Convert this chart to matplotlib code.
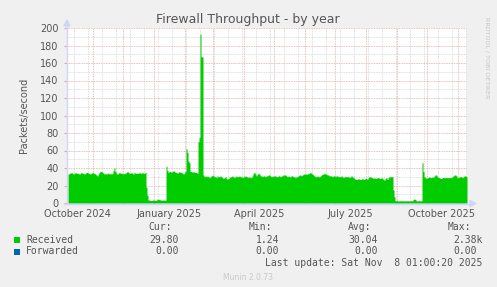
import numpy as np
import matplotlib
matplotlib.use("Agg")
from matplotlib import pyplot as plt
from matplotlib.patches import Rectangle, Polygon
from matplotlib.lines import Line2D
import datetime as dt

W, H = 497, 287

# daily "Received" packets/second, first day 2024-10-07
received_autumn = [
    33, 34, 34, 35, 34, 33, 34, 35, 34, 34,
    34, 33, 34, 35, 34, 34, 33, 34, 35, 35,
    34, 34, 33, 34, 35, 34, 34, 33, 32, 31,
    33, 35, 36, 36, 35, 34, 33, 34, 33, 34,
    34, 33, 34, 33, 34, 37, 40, 36, 34, 33,
    34, 35, 34, 34, 34, 33, 34, 34, 35, 36,
    35, 34, 34, 35, 34, 33, 35, 34, 34, 34,
    34, 35, 34, 34, 35, 34, 34, 35,
]
received_outage1 = [18, 9,
    3.5, 3.2, 3.0, 2.8, 3.0, 3.4, 3.2, 3.0, 3.3,
    4.5, 4.2, 3.8, 3.5, 3.2, 3.3, 3.4, 3.2, 3.3]
received_winter = [42,
    37, 35, 36, 36, 35, 36, 37, 36, 35, 35,
    34, 35, 36, 35, 35, 34, 33, 34, 36,
    62, 58, 48, 46,
    36, 36, 35, 36, 35, 35, 35, 34,
    70, 75, 193, 167, 167, 32]
received_spring = [
    30, 31, 30, 31, 30, 29, 30, 31, 32, 31,
    30, 30, 29, 31, 30, 30, 31, 30, 29, 28,
    29, 30, 28, 27, 28, 29, 30, 30, 31, 30,
    29, 30, 31, 30, 30, 31, 30, 30, 29, 30,
    30, 31, 30, 30, 29, 30,
    29, 29, 31, 34, 35, 33, 31, 33, 34, 33,
    31, 31, 30, 31, 31, 30, 31, 31, 32, 32,
    31, 30, 31, 30, 31, 31, 30, 30, 31, 31,
    30, 31, 31, 32, 32, 32, 31, 30, 31, 30,
    30, 31, 31, 30, 30, 29, 30, 30, 31, 32,
    32, 31, 32, 33, 33, 33, 33, 33, 34, 34,
    35, 34, 33, 32, 31, 30, 30, 31, 30, 30,
    31, 32, 33, 33, 34, 33, 33, 32, 32, 31,
    31, 31, 30, 31, 31, 30, 31, 31, 30, 30,
    30, 31, 30, 29, 30, 30, 30, 30, 30, 29,
    30, 31, 30, 29, 28, 27, 27, 27, 28, 27,
    27, 27, 28, 27, 27, 28, 28, 27, 29, 30,
    30, 29, 29, 28, 29, 28, 28, 29, 29, 28,
    28, 29, 28, 27, 26, 28, 29, 27, 29, 30,
    30, 30, 30,
]
received_outage2 = [15, 7,
    2.6, 2.4, 2.5, 2.3, 2.4, 2.5, 2.6, 2.4, 2.5, 2.3,
    2.4, 2.5, 2.6, 2.4, 2.5, 2.4, 2.6, 2.5, 4.2, 4.6,
    4.0, 2.5, 2.4, 2.5, 2.6, 2.4, 2.5]
received_autumn2 = [46,
    36, 30, 29, 28, 29, 29, 30, 29, 29, 30,
    29, 31, 32, 32, 30, 29, 29, 28, 28, 29,
    29, 29, 29, 29, 29, 29, 29, 29, 29, 30,
    31, 32, 32, 31, 29, 29, 30, 30, 30, 29,
    30, 31, 31, 30]

received = np.array(received_autumn + received_outage1 + received_winter
                    + received_spring + received_outage2 + received_autumn2, dtype=float)
forwarded = np.zeros_like(received)

data_start = dt.datetime(2024, 10, 7)
dates = [data_start + dt.timedelta(days=i) for i in range(len(received) + 1)]
vals = np.append(received, received[-1])
fwd = np.append(forwarded, 0)

x_start = dt.datetime(2024, 10, 6)
x_end = dt.datetime(2025, 11, 10)

# Nov 2024 .. Nov 2025
month_starts = [dt.datetime(2024 + (10 + k) // 12, (10 + k) % 12 + 1, 1) for k in range(13)]
label_dates = [dt.datetime(2024, 10, 16), dt.datetime(2025, 1, 16), dt.datetime(2025, 4, 16),
               dt.datetime(2025, 7, 16), dt.datetime(2025, 10, 16)]
label_text = ["October 2024", "January 2025", "April 2025", "July 2025", "October 2025"]

legend_names = ["Received", "Forwarded"]
legend_colors = ["#00CC00", "#0066B3"]
cur_vals = ["29.80", "0.00"]
min_vals = ["1.24", "0.00"]
avg_vals = ["30.04", "0.00"]
max_vals = ["2.38k", "0.00"]

BG = "#F0F0F0"
TXT = "#555555"
AXC = "#CFD6F8"
MAJ = "#E9A6A6"
MIN = "#D4D4D4"

fig = plt.figure(figsize=(W / 100, H / 100), dpi=100, facecolor=BG)
ax = fig.add_axes([67 / W, 1 - 203 / H, 400 / W, 175 / H])
ax.set_facecolor("white")
for s in ax.spines.values():
    s.set_visible(False)

# grid
wk = dt.datetime(2024, 10, 13)
while wk < x_end:
    ax.axvline(wk, color=MIN, lw=0.6, ls=(0, (1, 1)), zorder=1)
    wk += dt.timedelta(days=14)
for y in range(10, 201, 20):
    ax.axhline(y, color=MIN, lw=0.6, ls=(0, (1, 1)), zorder=1)
for m in month_starts:
    ax.axvline(m, color=MAJ, lw=0.6, ls=(0, (1, 1)), zorder=1.5)
for y in range(20, 201, 20):
    ax.axhline(y, color=MAJ, lw=0.6, ls=(0, (1, 1)), zorder=1.5)

ax.fill_between(dates, 0, vals, step="post", color="#00CC00", lw=0, zorder=2)
ax.step(dates, fwd, where="post", color="#0066B3", lw=0.8, zorder=2.5)

ax.set_yticks(range(0, 201, 20))
ax.set_yticklabels([str(v) for v in range(0, 201, 20)], fontsize=7, color=TXT)
ax.tick_params(axis="y", length=2, color=MAJ, pad=4)

ax.set_xticks(month_starts)
ax.set_xticklabels([])
ax.tick_params(axis="x", which="major", length=2, color=MAJ, direction="in")
ax.set_xticks(label_dates, minor=True)
ax.set_xticklabels(label_text, minor=True, fontsize=7, color=TXT)
ax.tick_params(axis="x", which="minor", length=0, pad=4)

ax.set_xlim(x_start, x_end)
ax.set_ylim(0, 200)

ax.set_ylabel("Packets/second", fontsize=7, color=TXT, labelpad=8)


def px(x, y):
    return x / W, 1 - y / H


# axes with arrows
fig.add_artist(Line2D([67 / W, 67 / W], [1 - 204 / H, 1 - 24 / H], color=AXC, lw=1))
fig.add_artist(Line2D([64 / W, 470 / W], [1 - 203.5 / H, 1 - 203.5 / H], color=AXC, lw=1))
fig.add_artist(Polygon([px(64, 26), px(70, 26), px(67, 20)], closed=True, color=AXC,
                       transform=fig.transFigure))
fig.add_artist(Polygon([px(470, 200.5), px(470, 206.5), px(476, 203.5)], closed=True, color=AXC,
                       transform=fig.transFigure))

fig.text(*px(248, 19), "Firewall Throughput - by year", fontsize=9, color=TXT,
         ha="center", va="center")
fig.text(*px(487, 58), "RRDTOOL / TOBI OETIKER", fontsize=4.6, color="#C4C4C4",
         rotation=270, ha="center", va="center")

mono = dict(family="DejaVu Sans Mono", fontsize=7, color=TXT, va="center")
fig.text(*px(172, 227), "Cur:", ha="right", **mono)
fig.text(*px(272, 227), "Min:", ha="right", **mono)
fig.text(*px(371, 227), "Avg:", ha="right", **mono)
fig.text(*px(471, 227), "Max:", ha="right", **mono)

rows_y = [240, 251.5]
for i, name in enumerate(legend_names):
    y = rows_y[i]
    fig.add_artist(Rectangle(px(14, y + 3), 6 / W, 6 / H, transform=fig.transFigure,
                             facecolor=legend_colors[i], edgecolor="none"))
    fig.text(*px(26, y), name, ha="left", **mono)
    fig.text(*px(179, y), cur_vals[i], ha="right", **mono)
    fig.text(*px(279, y), min_vals[i], ha="right", **mono)
    fig.text(*px(378, y), avg_vals[i], ha="right", **mono)
    mx = max_vals[i]
    fig.text(*px(483 if mx.endswith("k") else 477, y), mx, ha="right", **mono)

fig.text(*px(482, 263), "Last update: Sat Nov  8 01:00:20 2025", ha="right", **mono)
fig.text(*px(248, 277), "Munin 2.0.73", fontsize=5.5, color="#C8C8C8", ha="center", va="center")

fig.savefig("out.png", dpi=100, facecolor=BG)
